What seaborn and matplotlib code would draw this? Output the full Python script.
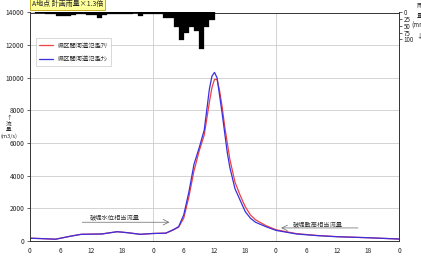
import numpy as np
import pandas as pd
import matplotlib
matplotlib.use("Agg")
import matplotlib.pyplot as plt
import seaborn as sns

# ---- data ----
hours = [0, 2, 5, 8, 10, 14, 17, 19, 21.5, 24, 26.5, 28, 29, 30, 31, 32, 33, 34, 35,
         35.5, 36, 36.5, 37, 37.5, 38, 38.5, 39, 40, 41, 42, 43, 44, 46, 48, 52, 56,
         60, 66, 72]
flow_with = [170, 150, 110, 300, 410, 430, 570, 510, 410, 460, 480, 680, 850, 1400,
             2700, 4300, 5500, 6500, 8500, 9400, 9900, 9900, 9200, 8200, 7000, 6000,
             5000, 3600, 2800, 2100, 1600, 1300, 950, 690, 450, 340, 265, 200, 120]
flow_without = [170, 150, 110, 300, 410, 430, 570, 510, 410, 460, 480, 700, 880, 1600,
                3000, 4700, 5700, 6800, 9300, 10100, 10330, 10000, 8900, 7800, 6600,
                5400, 4500, 3200, 2500, 1800, 1400, 1150, 880, 650, 430, 330, 260, 200, 120]
rain_hour = list(range(36))
rain_mm = [0, 2, 3, 6, 7, 12, 12, 12, 8, 4, 4, 8, 8, 20, 8, 5, 5, 7, 7, 4, 3, 13,
           7, 7, 5, 7, 20, 20, 55, 103, 76, 55, 69, 134, 55, 28]
x_ticks = list(range(0, 73, 6))
x_ticklabels = ["0", "6", "12", "18"] * 3 + ["0"]
series_names = ["県区間河道氾濫ｱﾘ", "県区間河道氾濫ﾅｼ"]

df = pd.concat([
    pd.DataFrame({"hour": hours, "flow": flow_with, "case": series_names[0]}),
    pd.DataFrame({"hour": hours, "flow": flow_without, "case": series_names[1]}),
])

sns.set_style("white")
plt.rcParams["font.family"] = ["Noto Sans CJK JP", "DejaVu Sans"]
plt.rcParams["axes.unicode_minus"] = False

fig = plt.figure(figsize=(4.21, 2.57), dpi=100)
ax = fig.add_axes([30 / 421, 16 / 257, 369 / 421, 228.5 / 257])

sns.lineplot(data=df, x="hour", y="flow", hue="case",
             palette={series_names[0]: "#f04040", series_names[1]: "#3a2ee0"},
             linewidth=0.9, ax=ax, legend=True)

ax.set_xlim(0, 72)
ax.set_ylim(0, 14000)
ax.set_xticks(x_ticks)
ax.set_xticklabels(x_ticklabels)
ax.set_xticks(range(0, 73), minor=True)
ax.set_yticks(range(0, 14001, 2000))
ax.set_yticklabels([str(v) for v in range(0, 14001, 2000)])
ax.tick_params(axis="both", which="major", labelsize=4.8, length=2, width=0.5,
               direction="out", pad=2)
ax.tick_params(axis="x", which="minor", length=1, width=0.4)
for y in range(2000, 14000, 2000):
    ax.axhline(y, color="#cccccc", linewidth=0.6, zorder=0)
for x in (24, 48):
    ax.axvline(x, color="#cccccc", linewidth=0.6, zorder=0)
ax.set_xlabel("")
ax.set_ylabel("")
for s in ax.spines.values():
    s.set_color("#333333")
    s.set_linewidth(0.7)

leg = ax.legend(loc="upper left", bbox_to_anchor=(0.008, 0.9), fontsize=4.5,
                frameon=True, handlelength=2.2, borderpad=0.5, labelspacing=0.9,
                fancybox=False)
leg.get_frame().set_edgecolor("#bbbbbb")
leg.get_frame().set_linewidth(0.5)

# rainfall (inverted, from top)
ax2 = ax.twinx()
ax2.bar([h + 0.5 for h in rain_hour], rain_mm, width=1.0, color="black",
        edgecolor="black", linewidth=0.2)
ax2.set_ylim(850, 0)
ax2.set_yticks([0, 25, 50, 75, 100])
ax2.tick_params(axis="y", labelsize=4.5, length=2, width=0.5, pad=1.5)
for s in ax2.spines.values():
    s.set_visible(False)

# annotations
ax.text(16.5, 1480, "破堤水位相当流量", fontsize=4.5, ha="center", va="center",
        color="#333333")
ax.annotate("", xy=(27.2, 1150), xytext=(10.2, 1150),
            arrowprops=dict(arrowstyle="->", color="#666666", lw=0.5,
                            shrinkA=0, shrinkB=0))
ax.text(56.2, 1000, "破堤敷高相当流量", fontsize=4.5, ha="center", va="center",
        color="#333333")
ax.annotate("", xy=(49.0, 800), xytext=(64.0, 800),
            arrowprops=dict(arrowstyle="->", color="#666666", lw=0.5,
                            shrinkA=0, shrinkB=0))

# title box and axis labels
fig.text(0.075, 1.0, "A地点 計画雨量×1.3倍", fontsize=5, ha="left", va="top",
         bbox=dict(boxstyle="square,pad=0.25", facecolor="#ffff99",
                   edgecolor="#b8a000", linewidth=0.6))
fig.text(0.001, 0.505, "↑\n流\n量\n(m3/s)", fontsize=4.0, ha="left", va="center",
         linespacing=1.15, multialignment="center")
fig.text(0.978, 0.92, "雨\n量\n(mm)\n↓", fontsize=4.5, ha="left", va="center",
         linespacing=1.3, multialignment="center")

fig.savefig("out.png", dpi=100)
